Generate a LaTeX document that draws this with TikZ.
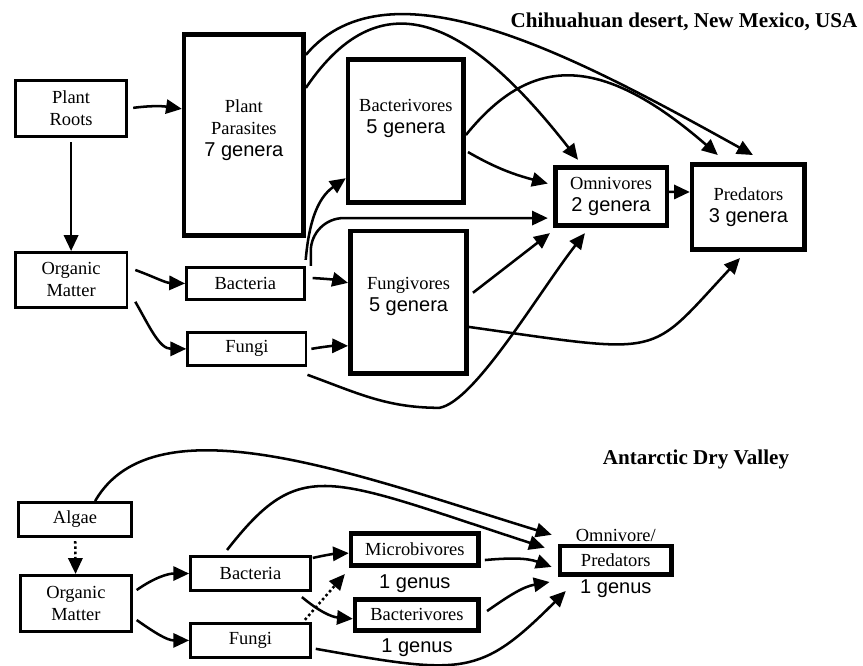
\documentclass[tikz,border=0pt]{standalone}
\usepackage{fontspec}
\setmainfont{Liberation Serif}
\setsansfont{Liberation Sans}
\usepackage{tikz}
\usetikzlibrary{positioning, arrows.meta}

\newcommand{\genus}[1]{{\sffamily\fontsize{19}{22}\selectfont #1}}

\tikzset{
    box/.style = {draw, line width = 2.6pt, align = center, inner sep = 0pt, font = \fontsize{17.5}{21}\selectfont},
    heavybox/.style = {box, line width = 4.4pt},
    boxtext/.style = {align = center, inner sep = 0pt, font = \fontsize{17.5}{21}\selectfont},
    flow/.style = {-{Triangle[length = 15pt, width = 13.5pt]}, line width = 2.4pt},
    dotflow/.style = {flow, dash pattern = on 2.4pt off 2.6pt},
    heading/.style = {font = \bfseries\fontsize{20}{24}\selectfont},
    count/.style = {inner sep = 0pt, font = \sffamily\fontsize{19}{22}\selectfont}
}

\begin{document}
\begin{tikzpicture}
            \useasboundingbox (0, 0) rectangle (28.77, -22.17);

            \node[heading] (chihuahuan) at (22.8, -0.73) {Chihuahuan desert, New Mexico, USA};
            \node[box, minimum width = 3.7cm, minimum height = 1.88cm] (roots) at (2.37, -3.62) {Plant\\Roots};
            \node[heavybox, minimum width = 3.98cm, minimum height = 6.72cm] (parasites) at (8.13, -4.5) {};
            \node[boxtext, yshift = 0.17cm] (parasitestext) at (parasites) {Plant\\Parasites\\\genus{7 genera}};
            \node[box, minimum width = 3.73cm, minimum height = 1.83cm] (orgA) at (2.37, -9.33) {Organic\\Matter};
            \node[box, minimum width = 3.93cm, minimum height = 1.08cm] (bactA) at (8.18, -9.45) {Bacteria};
            \node[box, minimum width = 3.95cm, minimum height = 1.1cm] (fungA) at (8.23, -11.63) {Fungi};
            \node[heavybox, minimum width = 3.85cm, minimum height = 4.78cm] (bacv) at (13.53, -4.37) {};
            \node[boxtext, yshift = 0.43cm] (bacvtext) at (bacv) {Bacterivores\\\genus{5 genera}};
            \node[heavybox, minimum width = 3.88cm, minimum height = 4.75cm] (fngv) at (13.62, -10.08) {};
            \node[boxtext, yshift = 0.2cm] (fngvtext) at (fngv) {Fungivores\\\genus{5 genera}};
            \node[heavybox, minimum width = 3.72cm, minimum height = 1.95cm] (omni) at (20.37, -6.55) {Omnivores\\\genus{2 genera}};
            \node[heavybox, minimum width = 3.75cm, minimum height = 2.85cm] (pred) at (24.95, -6.9) {Predators\\\genus{3 genera}};

            \draw[flow, shorten <= 5pt] (roots.east) to[bend left = 8] ([yshift = 0.87cm]parasites.west);
            \draw[flow, shorten <= 4pt] (roots) -- (orgA);
            \draw[flow] ([shift = {(0.23, 0.33)}]orgA.east) to[out = -20, in = 178] (bactA.west);
            \draw[flow] ([shift = {(0.23, -0.73)}]orgA.east) to[out = -60, in = 180] (fungA.west);
            \draw[flow] ([yshift = 0.2cm]bactA.north east) to[out = 85, in = 215] ([yshift = -1.57cm]bacv.west);
            \draw[flow, rounded corners = 1.1cm] ([xshift = 0.17cm]bactA.north east) |- ([shift = {(-0.17, -0.72)}]omni.west);
            \draw[flow] ([shift = {(0.23, 0.18)}]bactA.east) to[bend left = 5] ([yshift = 0.65cm]fngv.west);
            \draw[flow] ([xshift = 0.13cm]fungA.east) to[bend left = 5] ([yshift = -1.45cm]fngv.west);
            \draw[flow] ([yshift = -0.27cm]fungA.south east) to[out = -20, in = 180] ++(4.4, -1.1) to[out = 10, in = 232, out distance = 1.2cm, in distance = 2.5cm] ([shift = {(-0.87, -0.17)}]omni.south);
            \draw[flow] ([yshift = 1.57cm]parasites.east) to[out = 56, in = 128, out distance = 4.67cm, in distance = 5.67cm] ([shift = {(-1.1, 0.17)}]omni.north);
            \draw[flow] ([yshift = 2.67cm]parasites.east) to[out = 50, in = 151, out distance = 4.33cm, in distance = 6.67cm] ([shift = {(0.15, 0.23)}]pred.north);
            \draw[flow] ([shift = {(0.07, -0.7)}]bacv.east) to[out = -30, in = 165] ([shift = {(-0.17, 0.43)}]omni.west);
            \draw[flow] ([yshift = -0.13cm]bacv.east) to[out = 51, in = 139, out distance = 3.33cm, in distance = 5.33cm] ([shift = {(-1.02, 0.23)}]pred.north);
            \draw[flow] ([shift = {(0.13, 0.32)}]fngv.east) -- ([shift = {(-0.1, -0.17)}]omni.south west);
            \draw[flow] ([yshift = -0.82cm]fngv.east) to[out = -8, in = 227, out distance = 6.67cm, in distance = 4.57cm] ([shift = {(-0.28, -0.2)}]pred.south);
            \draw[flow] ([yshift = 0.15cm]omni.east) -- ([yshift = 0.5cm]pred.west);

            \node[heading] (antarctic) at (23.2, -15.33) {Antarctic Dry Valley};
            \node[box, minimum width = 3.78cm, minimum height = 1.14cm] (algae) at (2.5, -17.32) {Algae};
            \node[box, minimum width = 3.7cm, minimum height = 1.88cm] (orgB) at (2.53, -20.12) {Organic\\Matter};
            \node[box, minimum width = 4.0cm, minimum height = 1.14cm] (bactB) at (8.35, -19.12) {Bacteria};
            \node[box, minimum width = 4.0cm, minimum height = 1.14cm] (fungB) at (8.35, -21.35) {Fungi};
            \node[heavybox, minimum width = 4.25cm, minimum height = 1.08cm] (micro) at (13.83, -18.32) {Microbivores};
            \node[heavybox, minimum width = 4.12cm, minimum height = 1.05cm] (bacvB) at (13.9, -20.5) {Bacterivores};
            \node[heavybox, minimum width = 3.72cm, minimum height = 0.95cm] (omniB) at (20.53, -18.68) {Predators};
            \node[count, below = 0.2cm] (microcount) at (micro.south) {1 genus};
            \node[count, below = 0.17cm] (bacvBcount) at (bacvB.south) {1 genus};
            \node[boxtext, above = 0.05cm] (omniBtop) at (omniB.north) {Omnivore/};
            \node[count, below = 0.1cm] (omniBcount) at (omniB.south) {1 genus};

            \draw[dotflow, shorten <= 3pt] (algae) -- (orgB);
            \draw[flow] ([shift = {(0.13, 0.45)}]orgB.east) to[out = 35, in = 180] (bactB.west);
            \draw[flow] ([shift = {(0.13, -0.55)}]orgB.east) to[out = -35, in = 180] (fungB.west);
            \draw[flow] ([shift = {(0.03, 0.52)}]bactB.east) to[bend left = 5] ([yshift = -0.12cm]micro.west);
            \draw[flow] ([shift = {(-0.33, -0.17)}]bactB.south east) to[out = -40, in = 175] ([yshift = -0.13cm]bacvB.west);
            \draw[dotflow] ([shift = {(-0.23, 0.07)}]fungB.north east) -- ([shift = {(-0.13, -0.2)}]micro.south west);
            \draw[flow] ([xshift = 0.67cm]algae.north) to[out = 60, in = 163, out distance = 4cm, in distance = 6.67cm] ([shift = {(-0.2, 0.3)}]omniB.north west);
            \draw[flow] ([shift = {(-0.78, 0.17)}]bactB.north) to[out = 52, in = 162, out distance = 4cm, in distance = 7.67cm] ([shift = {(-0.43, -0.13)}]omniB.north west);
            \draw[flow] ([shift = {(0.13, -0.35)}]micro.east) to[out = 5, in = 160] ([shift = {(-0.2, -0.22)}]omniB.west);
            \draw[flow] ([shift = {(0.2, 0.13)}]bacvB.east) to[out = 35, in = 190] ([shift = {(-0.27, -0.17)}]omniB.south west);
            \draw[flow] ([shift = {(0.13, -0.28)}]fungB.east) to[out = -10, in = 225, out distance = 5cm, in distance = 4.07cm] ([shift = {(0.27, -0.47)}]omniB.south west);
\end{tikzpicture}
\end{document}
